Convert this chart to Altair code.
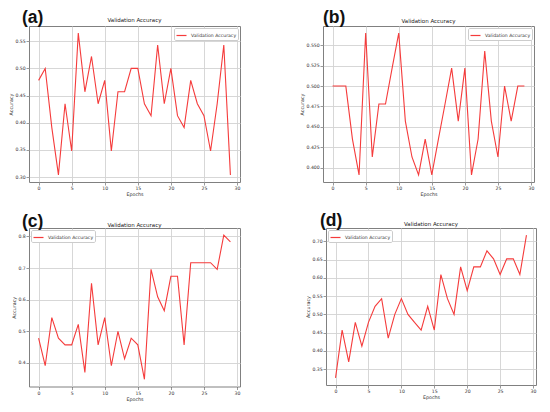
import altair as alt
import pandas as pd

epochs = list(range(30))

acc_a = [0.478, 0.500, 0.391, 0.304, 0.435, 0.348, 0.565, 0.457, 0.522, 0.435,
         0.478, 0.348, 0.457, 0.457, 0.500, 0.500, 0.435, 0.413, 0.543, 0.435,
         0.500, 0.413, 0.391, 0.478, 0.435, 0.413, 0.348, 0.435, 0.543, 0.304]
acc_b = [0.500, 0.500, 0.500, 0.435, 0.391, 0.565, 0.413, 0.478, 0.478, 0.522,
         0.565, 0.457, 0.413, 0.391, 0.435, 0.391, 0.435, 0.478, 0.522, 0.457,
         0.522, 0.391, 0.435, 0.543, 0.457, 0.413, 0.500, 0.457, 0.500, 0.500]
acc_c = [0.478, 0.391, 0.543, 0.478, 0.457, 0.457, 0.522, 0.370, 0.652, 0.457,
         0.543, 0.391, 0.500, 0.413, 0.478, 0.457, 0.348, 0.696, 0.609, 0.565,
         0.674, 0.674, 0.457, 0.717, 0.717, 0.717, 0.717, 0.696, 0.804, 0.783]
acc_d = [0.326, 0.457, 0.370, 0.478, 0.413, 0.478, 0.522, 0.543, 0.435, 0.500,
         0.543, 0.500, 0.478, 0.457, 0.522, 0.457, 0.609, 0.543, 0.500, 0.630,
         0.565, 0.630, 0.630, 0.674, 0.652, 0.609, 0.652, 0.652, 0.609, 0.717]

x_ticks = [0, 5, 10, 15, 20, 25, 30]
y_ticks_a = [0.30, 0.35, 0.40, 0.45, 0.50, 0.55]
y_ticks_b = [0.400, 0.425, 0.450, 0.475, 0.500, 0.525, 0.550]
y_ticks_c = [0.4, 0.5, 0.6, 0.7, 0.8]
y_ticks_d = [0.35, 0.40, 0.45, 0.50, 0.55, 0.60, 0.65, 0.70]

series_name = "Validation Accuracy"
panel_title = "Validation Accuracy"
panel_labels = ["(a)", "(b)", "(c)", "(d)"]

RED = "#f53b3b"
FONT = "DejaVu Sans"


def padded(vals):
    lo, hi = min(vals), max(vals)
    m = (hi - lo) * 0.05
    return [lo - m, hi + m]


def panel(vals, yticks, yfmt, label, legend_orient, w, h, lab_dx, lab_dy, tit_dy):
    df = pd.DataFrame({"Epochs": epochs, "Accuracy": vals, "series": series_name})
    line = alt.Chart(df).mark_line(strokeWidth=1.1, clip=True).encode(
        x=alt.X("Epochs:Q",
                scale=alt.Scale(domain=padded(epochs), nice=False, zero=False),
                axis=alt.Axis(values=x_ticks, format="d", title="Epochs")),
        y=alt.Y("Accuracy:Q",
                scale=alt.Scale(domain=padded(vals), nice=False, zero=False),
                axis=alt.Axis(values=yticks, format=yfmt, title="Accuracy")),
        color=alt.Color("series:N",
                        scale=alt.Scale(domain=[series_name], range=[RED]),
                        legend=alt.Legend(title=None, orient=legend_orient, offset=2,
                                          strokeColor="#cccccc", fillColor="white",
                                          padding=1.5, cornerRadius=1.5,
                                          symbolType="stroke", symbolSize=100,
                                          symbolStrokeWidth=1.2, symbolOffset=0,
                                          labelOffset=3.5,
                                          labelFontSize=4.6, labelFont=FONT,
                                          labelColor="#333333")),
    )
    lab = alt.Chart(pd.DataFrame({"t": [label]})).mark_text(
        font="Liberation Sans", fontWeight="bold", fontSize=17.5,
        align="left", baseline="alphabetic", color="#111111",
    ).encode(text="t:N", x=alt.value(lab_dx), y=alt.value(lab_dy))
    tit = alt.Chart(pd.DataFrame({"t": [panel_title]})).mark_text(
        font=FONT, fontSize=5.5, align="center", baseline="alphabetic",
        color="#222222",
    ).encode(text="t:N", x=alt.value(w / 2), y=alt.value(tit_dy))
    return alt.layer(line, lab, tit).resolve_scale(color="independent").properties(
        width=w, height=h)


pa = panel(acc_a, y_ticks_a, ".2f", panel_labels[0], "top-right", 211, 156, -7, -3, -4)
pb = panel(acc_b, y_ticks_b, ".3f", panel_labels[1], "top-right", 211, 156, 0, -3, -3)
pc = panel(acc_c, y_ticks_c, ".1f", panel_labels[2], "top-left", 211, 158.5, -7, -1, -1)
pd_ = panel(acc_d, y_ticks_d, ".2f", panel_labels[3], "top-left", 210, 157, -6, -2.5, -2.5)

row1 = alt.hconcat(pa, pb, spacing=58).resolve_scale(color="independent").resolve_legend(color="independent")
row2 = alt.hconcat(pc, pd_, spacing=64).resolve_scale(color="independent").resolve_legend(color="independent")
chart = alt.vconcat(row1, row2, spacing=14).resolve_scale(
    color="independent").resolve_legend(color="independent").properties(
    padding={"top": 0, "left": 0, "right": 0, "bottom": 0}
).configure_view(
    stroke="#808080", strokeWidth=1
).configure_axis(
    labelFont=FONT, labelFontSize=4.6, labelColor="#333333",
    titleFont=FONT, titleFontSize=4.8, titleFontWeight="normal", titleColor="#333333",
    gridColor="#d2d2d2", gridWidth=0.9, domain=False,
    tickColor="#555555", tickSize=3, tickWidth=0.6,
    labelPadding=0.8, titlePadding=1.2,
)

chart.save("out.html", embed_options={"renderer": "svg", "actions": False})
